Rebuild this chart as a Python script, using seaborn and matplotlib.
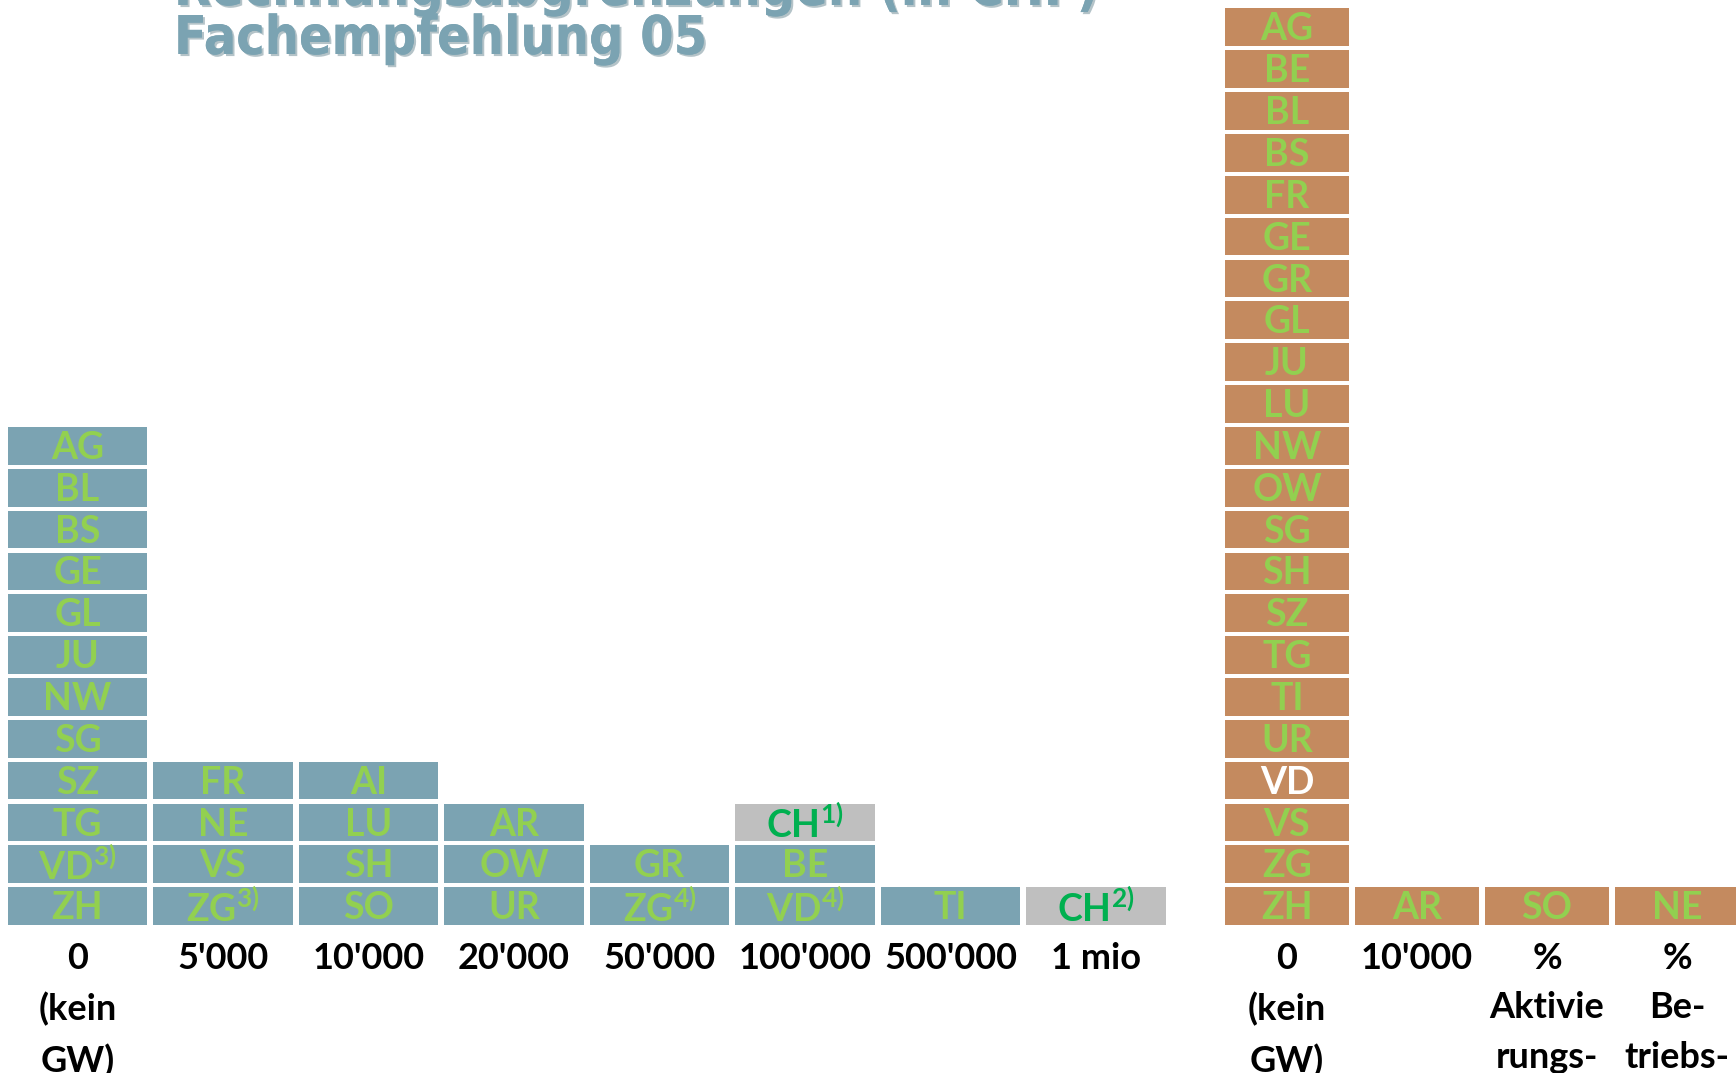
import matplotlib
matplotlib.use("Agg")
import matplotlib.pyplot as plt
import matplotlib.patheffects as pe
import pandas as pd
import seaborn as sns

# ---- data -------------------------------------------------------------
# left block: thresholds (column labels) and the cantons stacked in each, bottom to top
left_cols = ["0\n(kein\nGW)", "5'000", "10'000", "20'000", "50'000", "100'000", "500'000", "1 mio"]
left_col_of_tile = [0] * 12 + [1] * 4 + [2] * 4 + [3] * 3 + [4] * 2 + [5] * 3 + [6] + [7]
left_tiles = ["ZH", "VD$^{3)}$", "TG", "SZ", "SG", "NW", "JU", "GL", "GE", "BS", "BL", "AG",
              "ZG$^{3)}$", "VS", "NE", "FR",
              "SO", "SH", "LU", "AI",
              "UR", "OW", "AR",
              "ZG$^{4)}$", "GR",
              "VD$^{4)}$", "BE", "CH$^{1)}$",
              "TI",
              "CH$^{2)}$"]
left_kind = ["kanton"] * 27 + ["bund"] + ["kanton"] + ["bund"]

# right block
right_cols = ["0\n(kein\nGW)", "10'000", "%\nAktivie\nrungs-", "%\nBe-\ntriebs-"]
right_col_of_tile = [0] * 22 + [1, 2, 3]
right_tiles = ["ZH", "ZG", "VS", "VD", "UR", "TI", "TG", "SZ", "SH", "SG", "OW", "NW",
               "LU", "JU", "GL", "GR", "GE", "FR", "BS", "BL", "BE", "AG",
               "AR", "SO", "NE"]
right_kind = ["ertrag"] * 25

title_1 = "Rechnungsabgrenzungen (in CHF)"
title_2 = "Fachempfehlung 05"

# ---- style ------------------------------------------------------------
BLUE = "#7BA3B2"
BROWN = "#C48A5F"
GREY = "#BFBFBF"
palette = {"kanton": BLUE, "bund": GREY, "ertrag": BROWN}
label_colors = {"kanton": "#92D050", "bund": "#00B050", "ertrag": "#92D050"}

sns.set_theme(style="white")
plt.rcParams["font.family"] = ["Lato", "DejaVu Sans"]
plt.rcParams["mathtext.fontset"] = "custom"
plt.rcParams["mathtext.rm"] = "Lato:bold"
plt.rcParams["mathtext.it"] = "Lato:bold"
plt.rcParams["mathtext.bf"] = "Lato:bold"
plt.rcParams["mathtext.default"] = "rm"

TILE_H = 0.9
ROW_PX = 41.85
W, H = 1736, 1073
BASE_PX = 925


def tiles_frame(cols, col_idx, labels, kinds):
    df = pd.DataFrame({"col": [cols[i] for i in col_idx], "label": labels, "kind": kinds})
    df["level"] = df.groupby("col").cumcount()
    df["h"] = TILE_H
    return df


def draw_block(ax, df, cols, width):
    for level, sub in df.groupby("level"):
        sns.barplot(data=sub, x="col", y="h", hue="kind", palette=palette, order=cols,
                    dodge=False, width=width, bottom=level, saturation=1, linewidth=0,
                    errorbar=None, legend=False, ax=ax)
    for _, r in df.iterrows():
        c = label_colors[r["kind"]]
        if r["label"] == "VD" and r["kind"] == "ertrag":
            c = "white"
        ax.text(cols.index(r["col"]), r["level"] + 0.40, r["label"], ha="center", va="center",
                fontsize=27, fontweight="bold", color=c)
    ax.set_xlim(-0.5, len(cols) - 0.5)
    ax.set_ylim(0, BASE_PX / ROW_PX)
    ax.set_xticks(range(len(cols)))
    ax.set_xticklabels(cols, fontsize=26, fontweight="bold", color="black", linespacing=1.62,
                       va="top", ha="center", multialignment="center")
    ax.tick_params(axis="x", length=0, pad=12)
    ax.set_yticks([])
    ax.set_xlabel("")
    ax.set_ylabel("")
    sns.despine(ax=ax, left=True, bottom=True)


fig = plt.figure(figsize=(W / 100, H / 100), dpi=100)

ax_l = fig.add_axes([4.75 / W, (H - BASE_PX) / H, 1164 / W, BASE_PX / H])
ax_l.patch.set_alpha(0)
draw_block(ax_l, tiles_frame(left_cols, left_col_of_tile, left_tiles, left_kind), left_cols, 0.962)

ax_r = fig.add_axes([1222 / W, (H - BASE_PX) / H, 520 / W, BASE_PX / H])
ax_r.patch.set_alpha(0)
draw_block(ax_r, tiles_frame(right_cols, right_col_of_tile, right_tiles, right_kind), right_cols, 0.96)

shadow = [pe.withSimplePatchShadow(offset=(1.5, -1.5), shadow_rgbFace="#5a7b87", alpha=0.45), pe.Normal()]
fig.text(174 / W, 1 - 5 / H, title_1, fontsize=38.5, fontweight="bold", color=BLUE,
         family="DejaVu Sans", stretch="condensed", va="baseline", ha="left", path_effects=shadow)
fig.text(174 / W, 1 - 54 / H, title_2, fontsize=38.5, fontweight="bold", color=BLUE,
         family="DejaVu Sans", stretch="condensed", va="baseline", ha="left", path_effects=shadow)

fig.savefig("out.png", dpi=100)
